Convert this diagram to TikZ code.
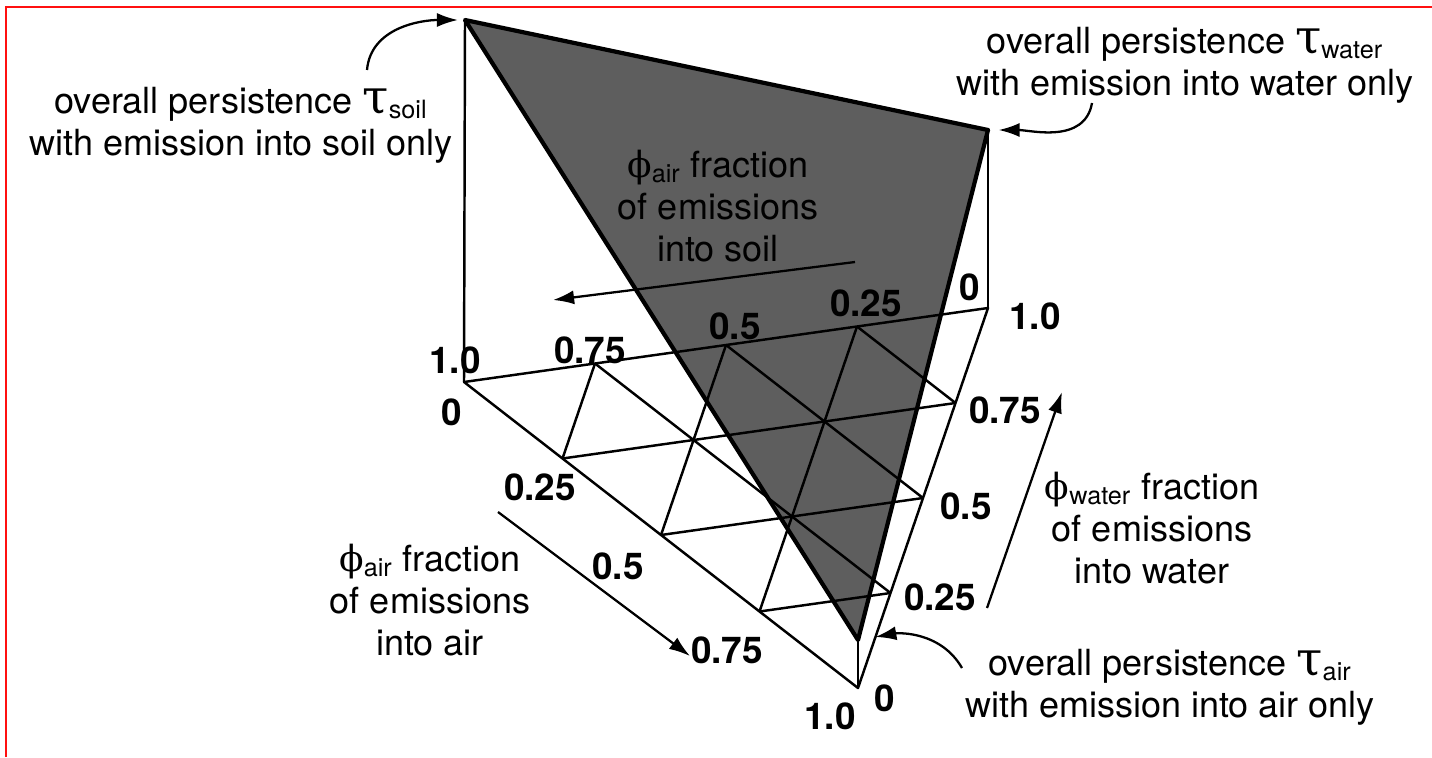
\documentclass[tikz,border=0pt]{standalone}
\usepackage{fontspec}
\setmainfont{TeX Gyre Heros}
\newfontfamily\grk{DejaVu Serif}
\usepackage{tikz}
\usetikzlibrary{positioning,calc,arrows.meta}
\definecolor{PlaneGray}{gray}{0.37}
\definecolor{FrameRed}{HTML}{FF1010}

\newcommand{\tsym}[1]{{\grk\fontsize{27}{24}\selectfont τ}\textsubscript{#1}}
\newcommand{\fsym}[1]{{\grk ϕ}\textsubscript{#1}}

\begin{document}
\begin{tikzpicture}[x=0.02cm, y=-0.02cm,
    every node/.style={font=\fontsize{20.5}{24}\selectfont}]
    \tikzstyle{note}=[align=center, inner sep=0pt]
    \tikzstyle{num}=[font=\fontsize{21}{24}\selectfont\bfseries, inner sep=0pt]
    \tikzstyle{edge}=[line width=1.4pt, line join=round]
    \tikzstyle{rim}=[line width=2.4pt, line join=round]
    \tikzstyle{pointer}=[line width=1.3pt, -{Latex[length=12pt, width=8pt]}]

    \useasboundingbox (0,0) rectangle (1432,757);
    \draw[FrameRed, line width=1.4pt] (6,757) -- (6,7) -- (1432,7);

    % corners of the base and tops of the plane
    \coordinate (soilBase) at (464,382);
    \coordinate (airBase) at (858,688);
    \coordinate (waterBase) at (988,308);
    \coordinate (soilTop) at (465,20);
    \coordinate (airTop) at (858,640);
    \coordinate (waterTop) at (988,130);

    % grid points
    \coordinate (l1) at ($(soilBase)!0.25!(airBase)$);
    \coordinate (l2) at ($(soilBase)!0.5!(airBase)$);
    \coordinate (l3) at ($(soilBase)!0.75!(airBase)$);
    \coordinate (b1) at ($(soilBase)!0.25!(waterBase)$);
    \coordinate (b2) at ($(soilBase)!0.5!(waterBase)$);
    \coordinate (b3) at ($(soilBase)!0.75!(waterBase)$);
    \coordinate (r1) at ($(airBase)!0.25!(waterBase)$);
    \coordinate (r2) at ($(airBase)!0.5!(waterBase)$);
    \coordinate (r3) at ($(airBase)!0.75!(waterBase)$);

    % persistence plane
    \fill[PlaneGray] (soilTop) -- (waterTop) -- (airTop) -- cycle;

    % base triangle and grid
    \draw[edge] (soilBase) -- (airBase) -- (waterBase) -- cycle;
    \draw[edge] (l1) -- (r3);
    \draw[edge] (l2) -- (r2);
    \draw[edge] (l3) -- (r1);
    \draw[edge] (b1) -- (r1);
    \draw[edge] (b2) -- (r2);
    \draw[edge] (b3) -- (r3);
    \draw[edge] (l1) -- (b1);
    \draw[edge] (l2) -- (b2);
    \draw[edge] (l3) -- (b3);

    % verticals
    \draw[edge] (soilTop) -- (soilBase);
    \draw[edge] (waterTop) -- (waterBase);
    \draw[edge] (airTop) -- (airBase);

    \draw[rim] (soilTop) -- (waterTop) -- (airTop) -- cycle;

    % axis values
    \node[num] (s10) at (455,360) {1.0};
    \node[num] (a0) at (452,412) {0};
    \node[num] (s75) at (590,350) {0.75};
    \node[num] (s50) at (735,326) {0.5};
    \node[num] (s25) at (866,303) {0.25};
    \node[num] (s0) at (970,287) {0};
    \node[num] (w10) at (1035,316) {1.0};
    \node[num] (w75) at (1005,410) {0.75};
    \node[num] (w50) at (966,506) {0.5};
    \node[num] (w25) at (940,597) {0.25};
    \node[num] (w0) at (885,698) {0};
    \node[num] (a10) at (830,716) {1.0};
    \node[num] (a25) at (540,487) {0.25};
    \node[num] (a50) at (618,566) {0.5};
    \node[num] (a75) at (727,650) {0.75};

    % captions
    \node[note] (soilNote) at (241,125) {overall persistence \tsym{soil}\\ with emission into soil only};
    \node[note] (waterNote) at (1185,65) {overall persistence \tsym{water}\\ with emission into water only};
    \node[note] (airNote) at (1170,687) {overall persistence \tsym{air}\\ with emission into air only};
    \node[note] (soilFrac) at (718,206) {\fsym{air} fraction\\ of emissions\\ into soil};
    \node[note] (airFrac) at (430,600) {\fsym{air} fraction\\ of emissions\\ into air};
    \node[note] (waterFrac) at (1152,528) {\fsym{water} fraction\\ of emissions\\ into water};

    % pointers
    \coordinate (soilFrom) at (367,70);
    \coordinate (waterFrom) at (1092,103);
    \coordinate (airFrom) at (962,668);
    \draw[pointer, shorten >=4pt] (soilFrom) to[out=85, in=180] (soilTop);
    \draw[pointer, shorten >=6pt] (waterFrom) to[out=-100, in=0] (waterTop);
    \draw[pointer, shorten >=10pt] (airFrom) to[out=120, in=10] (airTop);

    \coordinate (soilArrA) at (855,262);
    \coordinate (soilArrB) at (553,300);
    \coordinate (airArrA) at (498,512);
    \coordinate (airArrB) at (690,656);
    \coordinate (waterArrA) at (987,608);
    \coordinate (waterArrB) at (1062,392);
    \draw[pointer] (soilArrA) -- (soilArrB);
    \draw[pointer] (airArrA) -- (airArrB);
    \draw[pointer] (waterArrA) -- (waterArrB);

  \end{tikzpicture}
\end{document}
